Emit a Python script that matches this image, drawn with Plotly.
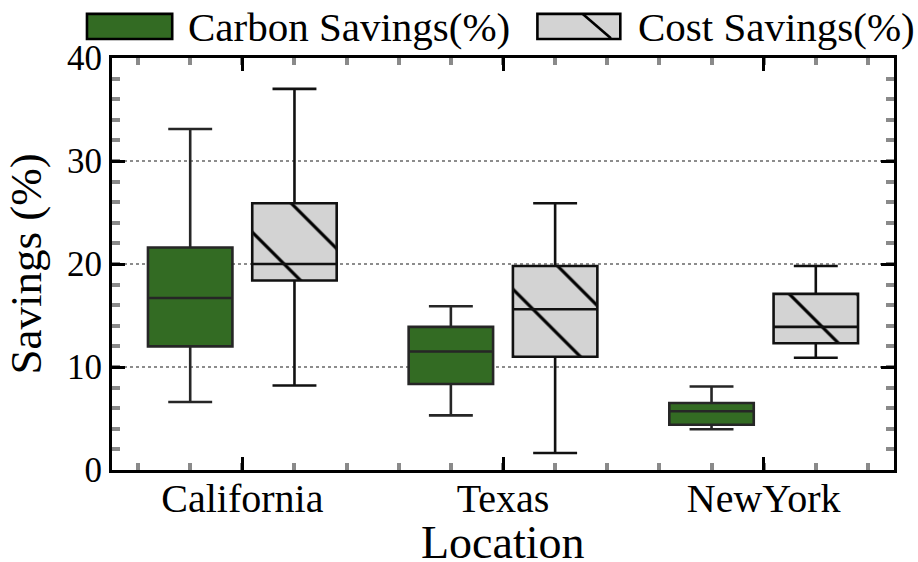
import plotly.graph_objects as go

# Locations and box statistics (savings in %)
locations = ["California", "Texas", "NewYork"]
positions = [0, 1, 2]

carbon_lower = [6.6, 5.3, 3.95]
carbon_q1 = [12.0, 8.35, 4.4]
carbon_median = [16.7, 11.5, 5.7]
carbon_q3 = [21.6, 13.9, 6.5]
carbon_upper = [33.1, 15.9, 8.1]

cost_lower = [8.2, 1.65, 10.9]
cost_q1 = [18.4, 11.0, 12.3]
cost_median = [20.0, 15.6, 13.9]
cost_q3 = [25.9, 19.8, 17.1]
cost_upper = [37.0, 25.9, 19.8]

y_ticks = [0, 10, 20, 30, 40]

GREEN = "#336b23"
GREY_FILL = "#d3d3d3"
FONT = "Liberation Serif"

W, H = 918, 562
M_L, M_R, M_T, M_B = 112, 24, 58, 92
X_RANGE = [-0.5, 2.5]
Y_RANGE = [0, 40]

# two boxes side by side in each location slot
BOX_W = 0.324
SHIFT = 0.2
carbon_x = [p - SHIFT for p in positions]
cost_x = [p + SHIFT for p in positions]

# The cost marks live on a hidden x2/y2 pair whose domain starts a little to
# the right of the frame; its range is stretched so one unit spans the same
# pixels as on the visible axis.  This only moves where the hatch tiling starts.
plot_w = W - M_L - M_R
plot_h = H - M_T - M_B
px_per_unit = plot_w / (X_RANGE[1] - X_RANGE[0])
hatch_offset_px = 34
x2_domain = [hatch_offset_px / plot_w, 1]
x2_range = [X_RANGE[0] + hatch_offset_px / px_per_unit, X_RANGE[1]]

fig = go.Figure()

fig.add_trace(go.Box(
    name="Carbon Savings(%)", x=carbon_x, width=BOX_W,
    q1=carbon_q1, median=carbon_median, q3=carbon_q3,
    lowerfence=carbon_lower, upperfence=carbon_upper,
    fillcolor=GREEN, line=dict(color="#262626", width=2.6),
    whiskerwidth=0.52, boxpoints=False, showlegend=False,
))

# hatched body underneath the transparent cost boxes
fig.add_trace(go.Bar(
    x=cost_x,
    base=cost_q1,
    y=[h - l for h, l in zip(cost_q3, cost_q1)],
    width=BOX_W,
    xaxis="x2", yaxis="y2",
    marker=dict(color=GREY_FILL, line=dict(width=0),
                pattern=dict(shape="\\", size=48, solidity=0.065, fgopacity=1,
                             fgcolor="black", bgcolor=GREY_FILL)),
    showlegend=False, hoverinfo="skip",
))
fig.add_trace(go.Box(
    name="Cost Savings(%)", x=cost_x, width=BOX_W,
    xaxis="x2", yaxis="y2",
    q1=cost_q1, median=cost_median, q3=cost_q3,
    lowerfence=cost_lower, upperfence=cost_upper,
    fillcolor="rgba(0,0,0,0)", line=dict(color="#111111", width=2.6),
    whiskerwidth=0.52, boxpoints=False, showlegend=False,
))

# legend drawn above the frame
legend_shapes = [
    dict(type="rect", xref="paper", yref="paper", x0=-0.032, x1=0.077,
         y0=1.046, y1=1.107, fillcolor=GREEN, line=dict(color="black", width=2.6)),
    dict(type="rect", xref="paper", yref="paper", x0=0.544, x1=0.650,
         y0=1.046, y1=1.107, fillcolor=GREY_FILL, line=dict(color="black", width=2.6)),
    dict(type="line", xref="paper", yref="paper", x0=0.602, x1=0.638,
         y0=1.107, y1=1.048, line=dict(color="black", width=2.6)),
]
legend_texts = [
    dict(text="Carbon Savings(%)", x=0.094, y=1.076),
    dict(text="Cost Savings(%)", x=0.670, y=1.076),
]
for t in legend_texts:
    fig.add_annotation(xref="paper", yref="paper", xanchor="left", yanchor="middle",
                       showarrow=False, font=dict(family=FONT, size=41, color="black"), **t)

# x-axis title placed below the tick labels
fig.add_annotation(text="Location", xref="paper", yref="paper",
                   x=0.5, y=-(542 - (H - M_B)) / plot_h,
                   xanchor="center", yanchor="middle", showarrow=False,
                   font=dict(family=FONT, size=46, color="black"))

axis_common = dict(
    showline=True, linewidth=3, linecolor="black", mirror="allticks",
    ticks="inside", tickcolor="black", tickwidth=3, ticklen=13,
    zeroline=False, automargin=False,
)

fig.update_layout(
    width=W, height=H,
    margin=dict(l=M_L, r=M_R, t=M_T, b=M_B),
    paper_bgcolor="white", plot_bgcolor="rgba(0,0,0,0)",
    boxmode="overlay", barmode="overlay",
    shapes=legend_shapes,
    showlegend=False,
    xaxis=dict(
        **axis_common,
        range=X_RANGE, tickvals=positions, ticktext=locations,
        tickfont=dict(family=FONT, size=40, color="black"),
        showgrid=False, ticklabelstandoff=-9,
        minor=dict(dtick=0.2, tick0=0, ticks="inside", ticklen=7,
                   tickwidth=4, tickcolor="#8a8a8a", showgrid=False),
    ),
    yaxis=dict(
        **axis_common,
        range=Y_RANGE, tickvals=y_ticks,
        tickfont=dict(family=FONT, size=35, color="black"),
        showgrid=True, gridcolor="#8c8c8c", gridwidth=2, griddash="dot",
        minor=dict(dtick=2, tick0=0, ticks="inside", ticklen=8,
                   tickwidth=4, tickcolor="#8a8a8a", showgrid=False),
        title=dict(text="Savings (%)", font=dict(family=FONT, size=45, color="black"),
                   standoff=12),
    ),
    xaxis2=dict(domain=x2_domain, range=x2_range, anchor="y2", visible=False,
                showgrid=False, zeroline=False),
    yaxis2=dict(range=Y_RANGE, anchor="x2", visible=False,
                showgrid=False, zeroline=False),
)

fig.write_html("out.html")
